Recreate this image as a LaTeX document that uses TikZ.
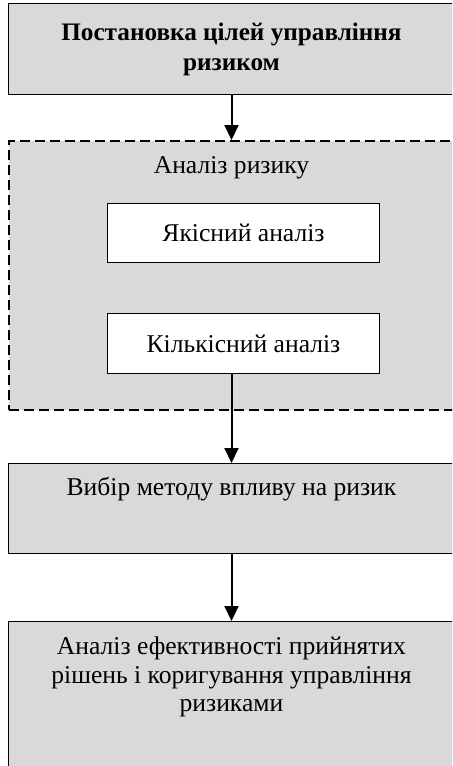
\documentclass[tikz,border=0pt]{standalone}
\usepackage{fontspec}
\setmainfont{Liberation Serif}
\usetikzlibrary{positioning,arrows.meta}
\definecolor{boxgray}{HTML}{D9D9D9}

\begin{document}
\begin{tikzpicture}[x=0.5pt,y=0.5pt,font=\fontsize{12.8}{14.3}\selectfont,
  g/.style={draw,line width=0.5pt,fill=boxgray,minimum width=223pt,inner sep=0pt,align=center},
  w/.style={draw,line width=0.5pt,fill=white,minimum width=136pt,inner sep=0pt},
  arr/.style={line width=1pt,-{Triangle[width=7pt,length=7.5pt]}}]
  \path[use as bounding box,clip](0,0) rectangle (452,-766);
  \node[g,font=\fontsize{12.6}{15}\selectfont\bfseries,minimum height=45.5pt,anchor=north west](goal) at (8,-3)
    {Постановка цілей управління\\ризиком};
  \node[g,dash pattern=on 5pt off 2.5pt,line width=1pt,below=22.5pt of goal,text height=16pt,text depth=118.5pt](an){Аналіз ризику};
  \node[w,minimum height=29.5pt,below=31.5pt of an.north,xshift=6pt](qual){Якісний аналіз};
  \node[w,minimum height=30pt,below=25pt of qual](quant){Кількісний аналіз};
  \node[g,below=26pt of an,text height=16pt,text depth=29pt](choice){Вибір методу впливу на ризик};
  \node[g,below=33.5pt of choice,text height=16.5pt,text depth=75pt](eff)
    {\begin{tabular}[t]{@{}c@{}}Аналіз ефективності прийнятих\\рішень і коригування управління\\ризиками\end{tabular}};
  \draw[arr](goal)--(an);
  \draw[arr](quant.south -| choice.north)--(choice.north);
  \draw[arr](choice)--(eff);
\end{tikzpicture}
\end{document}
